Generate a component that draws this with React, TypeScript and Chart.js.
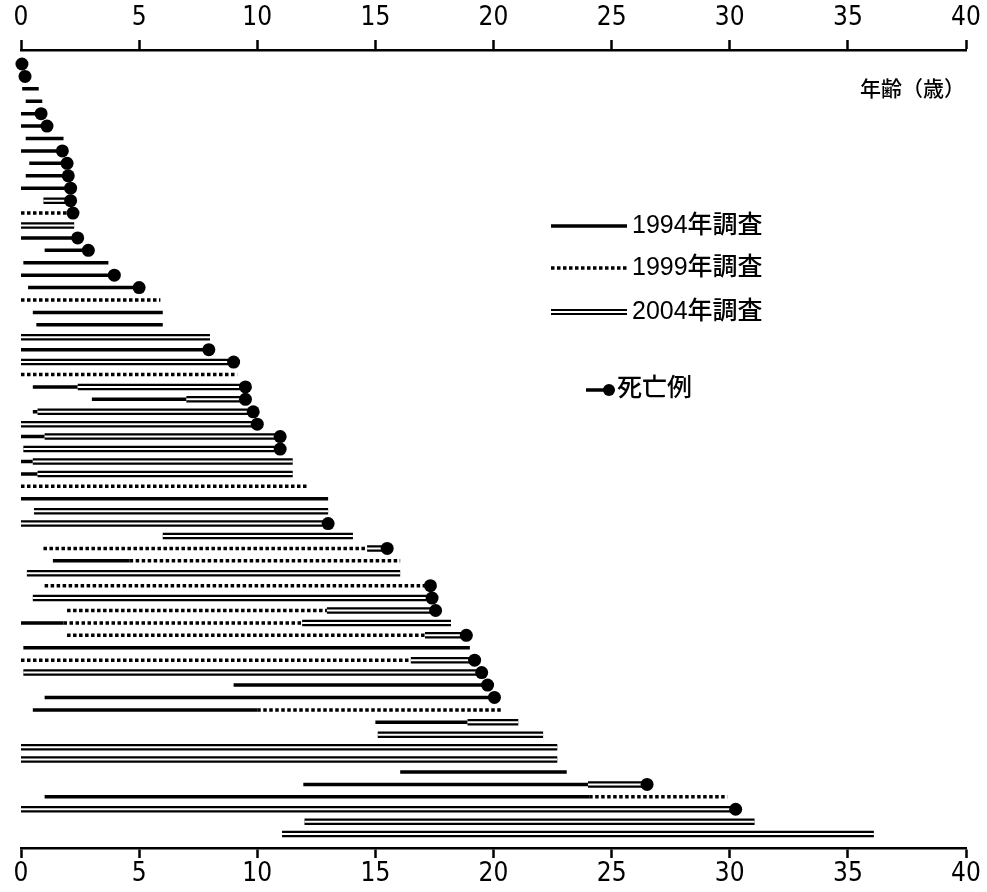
import React, { useEffect, useRef } from "react";
import { Chart, registerables } from "chart.js";

Chart.register(...registerables);

// [row, startAge, endAge]
const solid1994: [number, number, number][] = [
  [3, 0.05, 0.75], [4, 0.2, 0.9], [5, 0.0, 0.85], [6, 0.0, 1.1], [7, 0.2, 1.8],
  [8, 0.0, 1.75], [9, 0.35, 1.95], [10, 0.2, 2.0], [11, 0.0, 2.1], [15, 0.0, 2.4],
  [16, 1.0, 2.85], [17, 0.1, 3.7], [18, 0.0, 3.95], [19, 0.3, 5.0], [21, 0.5, 6.0],
  [22, 0.65, 6.0], [24, 0.0, 7.95], [27, 0.5, 2.4], [28, 3.0, 7.0], [29, 0.5, 0.7],
  [31, 0.0, 1.0], [33, 0.0, 0.5], [34, 0.0, 0.7], [36, 0.0, 13.0], [41, 1.35, 4.6],
  [46, 0.0, 1.8], [48, 0.1, 19.0], [51, 9.0, 19.7], [52, 1.0, 20.0], [53, 0.5, 10.0],
  [54, 15.0, 18.9], [58, 16.05, 23.1], [59, 11.95, 24.0], [60, 1.0, 24.05],
];

const dotted1999: [number, number, number][] = [
  [13, 0.0, 2.2], [20, 0.0, 5.9], [26, 0.0, 9.15], [35, 0.0, 12.1], [40, 0.95, 14.65],
  [41, 4.6, 16.05], [43, 1.0, 17.3], [45, 1.95, 12.95], [46, 1.8, 11.9], [47, 1.95, 17.1],
  [49, 0.0, 16.5], [53, 10.0, 20.4], [60, 24.05, 29.9],
];

const double2004: [number, number, number][] = [
  [12, 0.95, 2.1], [14, 0.0, 2.25], [23, 0.0, 8.0], [25, 0.0, 9.0], [27, 2.4, 9.5],
  [28, 7.0, 9.5], [29, 0.7, 9.8], [30, 0.0, 10.0], [31, 1.0, 10.95], [32, 0.1, 10.95],
  [33, 0.5, 11.5], [34, 0.7, 11.5], [37, 0.55, 13.0], [38, 0.0, 13.0], [39, 6.0, 14.05],
  [40, 14.65, 15.5], [42, 0.25, 16.05], [44, 0.5, 17.4], [45, 12.95, 17.55], [46, 11.9, 18.2],
  [47, 17.1, 18.85], [49, 16.5, 19.2], [50, 0.1, 19.5], [54, 18.9, 21.05], [55, 15.1, 22.1],
  [56, 0.0, 22.7], [57, 0.0, 22.7], [59, 24.0, 26.5], [61, 0.0, 30.25], [62, 12.0, 31.05],
  [63, 11.05, 36.1],
];

// [row, ageAtDeath]
const deaths: [number, number][] = [
  [1, 0.04], [2, 0.17], [5, 0.85], [6, 1.1], [8, 1.75], [9, 1.95], [10, 2.0], [11, 2.1],
  [12, 2.1], [13, 2.2], [15, 2.4], [16, 2.85], [18, 3.95], [19, 5.0], [24, 7.95], [25, 9.0],
  [27, 9.5], [28, 9.5], [29, 9.83], [30, 10.0], [31, 10.97], [32, 10.97], [38, 13.0],
  [40, 15.5], [43, 17.33], [44, 17.4], [45, 17.55], [47, 18.85], [49, 19.2], [50, 19.5],
  [51, 19.75], [52, 20.04], [59, 26.5], [61, 30.25],
];

const xTicksMin = 0;
const xTicksMax = 40;
const xTickStep = 5;
const rowCount = 63;
const legendLabels = ["1994年調査", "1999年調査", "2004年調査", "死亡例"];
const axisTitle = "年齢（歳）";

function segData(segs: [number, number, number][]) {
  const out: any[] = [];
  segs.forEach(([r, s, e]) => {
    out.push({ x: s, y: r });
    out.push({ x: e, y: r });
    out.push({ x: e, y: null });
  });
  return out;
}

const tickFont = { family: "'Liberation Sans Narrow', 'DejaVu Sans Condensed', 'Liberation Sans', Arial, sans-serif", size: 26 };

const legendPlugin = {
  id: "customLegend",
  afterDraw(chart: any) {
    const ctx = chart.ctx as CanvasRenderingContext2D;
    ctx.save();
    ctx.lineCap = "butt";
    ctx.strokeStyle = "#000";
    const x1 = 551, x2 = 627;
    ctx.lineWidth = 3.5;
    ctx.setLineDash([]);
    ctx.beginPath(); ctx.moveTo(x1, 226); ctx.lineTo(x2, 226); ctx.stroke();
    ctx.setLineDash([3.5, 2.5]);
    ctx.beginPath(); ctx.moveTo(x1, 268); ctx.lineTo(x2, 268); ctx.stroke();
    ctx.setLineDash([]);
    ctx.lineWidth = 6;
    ctx.beginPath(); ctx.moveTo(x1, 312); ctx.lineTo(x2, 312); ctx.stroke();
    ctx.strokeStyle = "#fff";
    ctx.lineWidth = 2;
    ctx.beginPath(); ctx.moveTo(x1, 312); ctx.lineTo(x2, 312); ctx.stroke();
    ctx.strokeStyle = "#000";
    ctx.lineWidth = 3.5;
    ctx.beginPath(); ctx.moveTo(586, 390); ctx.lineTo(606, 390); ctx.stroke();
    ctx.fillStyle = "#000";
    ctx.beginPath(); ctx.arc(609, 390, 6, 0, Math.PI * 2); ctx.fill();

    ctx.font = "500 25px 'Liberation Sans', 'Noto Sans CJK JP', sans-serif";
    ctx.textBaseline = "middle";
    ctx.textAlign = "left";
    ctx.fillText(legendLabels[0], 632, 226);
    ctx.fillText(legendLabels[1], 632, 268);
    ctx.fillText(legendLabels[2], 632, 312);
    ctx.fillText(legendLabels[3], 617, 389);

    ctx.font = "500 21px 'Noto Sans CJK JP', sans-serif";
    ctx.fillText(axisTitle, 860, 88);
    ctx.restore();
  },
};

export default function App() {
  const ref = useRef<HTMLCanvasElement | null>(null);
  useEffect(() => {
    if (!ref.current) return;
    const axisCommon = (pos: "top" | "bottom", pad: number) => ({
      type: "linear" as const,
      position: pos,
      min: xTicksMin,
      max: xTicksMax,
      ticks: { stepSize: xTickStep, font: tickFont, color: "#000", padding: pad },
      grid: { display: true, drawOnChartArea: false, drawTicks: true, tickLength: 10, tickWidth: 2.5, tickColor: "#000" },
      border: { display: true, color: "#000", width: 2.5 },
    });
    const chart = new Chart(ref.current, {
      type: "line",
      data: {
        datasets: [
          {
            label: "死亡例",
            data: deaths.map(([r, a]) => ({ x: a, y: r })),
            showLine: false,
            pointRadius: 6.5,
            pointBackgroundColor: "#000",
            pointBorderWidth: 0,
            clip: false as any,
            order: 0,
          },
          {
            label: "2004 inner",
            data: segData(double2004),
            borderColor: "#fff",
            borderWidth: 2,
            pointRadius: 0,
            borderCapStyle: "butt",
            spanGaps: false,
            order: 1,
          },
          {
            label: legendLabels[2],
            data: segData(double2004),
            borderColor: "#000",
            borderWidth: 6.5,
            pointRadius: 0,
            borderCapStyle: "butt",
            spanGaps: false,
            order: 2,
          },
          {
            label: legendLabels[1],
            data: segData(dotted1999),
            borderColor: "#000",
            borderWidth: 3.5,
            borderDash: [3.5, 2.5],
            pointRadius: 0,
            borderCapStyle: "butt",
            spanGaps: false,
            order: 3,
          },
          {
            label: legendLabels[0],
            data: segData(solid1994),
            borderColor: "#000",
            borderWidth: 3.5,
            pointRadius: 0,
            borderCapStyle: "butt",
            spanGaps: false,
            order: 4,
          },
        ],
      },
      options: {
        animation: false,
        responsive: false,
        layout: { padding: { left: 21, right: 21, top: 0, bottom: 0 } },
        plugins: { legend: { display: false }, tooltip: { enabled: false } },
        scales: {
          x: { ...axisCommon("bottom", 1), afterFit: (s: any) => { s.height = 44; } },
          x2: { ...axisCommon("top", 6), afterFit: (s: any) => { s.height = 50; } },
          y: { type: "linear", display: false, reverse: true, min: -0.127, max: rowCount + 1.12 },
        },
      } as any,
      plugins: [legendPlugin],
    });
    return () => chart.destroy();
  }, []);
  return (
    <div style={{ position: "absolute", left: 0, top: 0, width: 987, height: 892, background: "#fff" }}>
      <canvas ref={ref} width={987} height={892} />
    </div>
  );
}
